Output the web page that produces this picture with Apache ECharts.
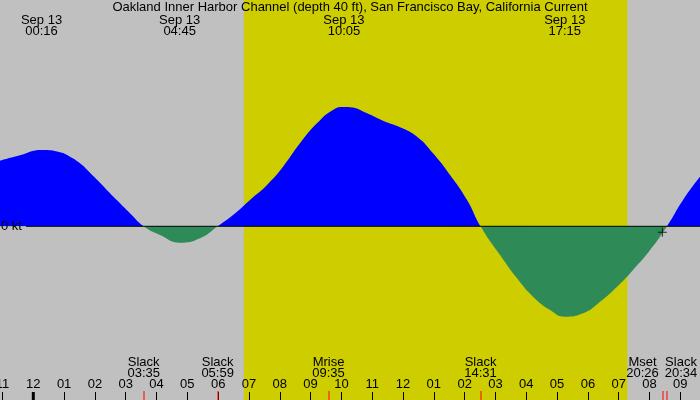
<!DOCTYPE html>
<html>
<head>
<meta charset="utf-8">
<title>Oakland Inner Harbor Channel current</title>
<script src="https://cdn.jsdelivr.net/npm/echarts@6/dist/echarts.min.js"></script>
<style>html,body{margin:0;padding:0;background:#c0c0c0;}</style>
</head>
<body>
<div id="main" style="width:700px;height:400px;"></div>
<script>
// current readings: hours after midnight Sep 13, knots (+ flood / - ebb)
const hours = [-1.081, -0.432, 0.267, 0.867, 1.191, 1.516, 1.84, 2.165, 2.489, 2.814, 3.138, 3.583,
    4.113, 4.75, 5.411, 5.983, 6.482, 7.033, 7.585, 8.104, 8.656, 9.207, 9.727, 10.083, 10.28,
    10.832, 11.351, 11.903, 12.455, 12.974, 13.526, 14.078, 14.517, 15.149, 15.701, 16.22, 16.772,
    17.25, 17.844, 18.396, 18.948, 19.467, 20.019, 20.567, 21.088, 21.639];
const knots = [0.328, 0.355, 0.381, 0.37, 0.348, 0.315, 0.268, 0.218, 0.165, 0.115, 0.065, 0,
    -0.044, -0.082, -0.06, 0, 0.056, 0.132, 0.207, 0.298, 0.415, 0.515, 0.582, 0.596, 0.595,
    0.565, 0.528, 0.495, 0.448, 0.365, 0.257, 0.132, 0, -0.144, -0.26, -0.352, -0.419,
    -0.452, -0.435, -0.377, -0.302, -0.218, -0.119, 0, 0.132, 0.248];

const hourTicks = [-1, 0, 1, 2, 3, 4, 5, 6, 7, 8, 9, 10, 11, 12, 13, 14, 15, 16, 17, 18, 19, 20, 21];
const dayBreaks = [0];

const eventNames = ['Slack', 'Slack', 'Mrise', 'Slack', 'Mset', 'Slack'];
const eventTimes = ['03:35', '05:59', '09:35', '14:31', '20:26', '20:34'];

const peakDates = ['Sep 13', 'Sep 13', 'Sep 13', 'Sep 13'];
const peakTimes = ['00:16', '04:45', '10:05', '17:15'];

const sunTimes = ['06:50', '19:17'];
const nowTime = '20:25';
const nowKnots = -0.03;

const XMIN = -1.081, XMAX = 21.639;
const YMIN = -0.8685, YMAX = 1.1315;
const FONT = 'Liberation Sans';
const FSIZE = 13;
const FLOOD = '#0000ff', EBB = '#2e8b57';

function toHour(s) {
    const p = s.split(':');
    return +p[0] + p[1] / 60;
}
function hourLabel(v) {
    let h = ((Math.round(v) % 12) + 12) % 12;
    if (h === 0) h = 12;
    return String(h).padStart(2, '0');
}

const eventHours = eventTimes.map(toHour);
const peakHours = peakTimes.map(toHour);

// spread overlapping labels apart
function spread(xs, w, right) {
    const c = xs.slice();
    for (let i = 0; i < c.length - 1; i++) {
        if (c[i + 1] - c[i] < w) {
            const mid = (c[i] + c[i + 1]) / 2;
            c[i] = mid - w / 2;
            c[i + 1] = mid + w / 2;
        }
    }
    for (let i = c.length - 1; i >= 0; i--) {
        const lim = i === c.length - 1 ? right - 19 : c[i + 1] - w;
        if (c[i] > lim) c[i] = lim;
    }
    return c;
}

const txt = (x, y, s, align) => ({
    type: 'text',
    style: {x: x, y: y, text: s, fill: '#000', font: FSIZE + 'px "' + FONT + '"',
        align: align || 'center', verticalAlign: 'middle'}
});

const myChart = echarts.init(document.getElementById('main'));
const H = myChart.getHeight();
// hard colour switch at the zero line (global pixel gradient)
const zeroAt = YMAX / (YMAX - YMIN);
const areaFill = new echarts.graphic.LinearGradient(0, 0, 0, H, [
    {offset: 0, color: FLOOD}, {offset: zeroAt, color: FLOOD},
    {offset: zeroAt, color: EBB}, {offset: 1, color: EBB}
], true);

const option = {
    backgroundColor: '#c0c0c0',
    animation: false,
    title: {
        text: 'Oakland Inner Harbor Channel (depth 40 ft), San Francisco Bay, California Current',
        left: 'center',
        top: 1,
        padding: 0,
        textStyle: {fontFamily: FONT, fontSize: FSIZE, fontWeight: 'normal', color: '#000'}
    },
    grid: {left: 0, right: 0, top: 0, bottom: 0, containLabel: false, outerBoundsMode: 'none'},
    xAxis: {
        type: 'value',
        min: XMIN,
        max: XMAX,
        axisLine: {show: false, onZero: false},
        splitLine: {show: false},
        axisTick: {inside: true, length: 8, customValues: hourTicks, lineStyle: {color: '#000', width: 1}},
        axisLabel: {
            inside: true, margin: 9, customValues: hourTicks, formatter: hourLabel,
            color: '#000', fontFamily: FONT, fontSize: FSIZE, showMinLabel: true, showMaxLabel: true
        }
    },
    yAxis: {
        type: 'value',
        min: YMIN,
        max: YMAX,
        show: false,
        splitLine: {show: false}
    },
    series: [
        {
            name: 'daylight',
            type: 'custom',
            z: 0,
            silent: true,
            clip: false,
            data: [[toHour(sunTimes[0]), 0, toHour(sunTimes[1])]],
            renderItem: function (params, api) {
                const a = api.coord([api.value(0), YMAX]);
                const b = api.coord([api.value(2), YMIN]);
                return {type: 'rect', shape: {x: a[0], y: a[1], width: b[0] - a[0], height: b[1] - a[1]},
                    style: {fill: '#cdcd00'}};
            }
        },
        {
            name: 'current',
            type: 'line',
            z: 2,
            smooth: 0.5,
            showSymbol: false,
            lineStyle: {width: 0},
            areaStyle: {opacity: 1, color: areaFill},
            data: hours.map((h, i) => [h, knots[i]])
        },
        {
            name: 'zero',
            type: 'custom',
            z: 3,
            clip: false,
            data: [[XMIN, 0, XMAX]],
            renderItem: function (params, api) {
                const a = api.coord([api.value(0), 0]);
                const b = api.coord([api.value(2), 0]);
                return {type: 'group', children: [
                    {type: 'line', shape: {x1: a[0] + 26, y1: a[1], x2: b[0], y2: b[1]},
                        style: {stroke: '#000', lineWidth: 1}},
                    txt(a[0] + 1, a[1], '0 kt', 'left')
                ]};
            }
        },
        {
            name: 'now',
            type: 'scatter',
            z: 4,
            symbol: 'path://M0,4H9V5H0Z M4,0H5V9H4Z',
            symbolSize: 9,
            itemStyle: {color: '#000'},
            data: [[toHour(nowTime), nowKnots]]
        },
        {
            name: 'events',
            type: 'custom',
            z: 4,
            clip: false,
            data: eventHours.map(h => [h, 0]),
            renderItem: function (params, api) {
                const i = params.dataIndex;
                const right = api.coord([XMAX, 0])[0];
                const xs = eventHours.map(h => api.coord([h, 0])[0]);
                const cs = spread(xs, 38.5, right);
                const bottom = api.coord([api.value(0), YMIN])[1];
                return {type: 'group', children: [
                    {type: 'rect', shape: {x: Math.round(xs[i]) - 0.5, y: bottom - 9, width: 1, height: 9},
                        style: {fill: '#ff0000'}},
                    txt(cs[i], bottom - 38, eventNames[i]),
                    txt(cs[i], bottom - 27, eventTimes[i])
                ]};
            }
        },
        {
            name: 'peaks',
            type: 'custom',
            z: 4,
            clip: false,
            data: peakHours.map(h => [h, 0]),
            renderItem: function (params, api) {
                const i = params.dataIndex;
                const x = api.coord([api.value(0), 0])[0];
                const top = api.coord([api.value(0), YMAX])[1];
                return {type: 'group', children: [
                    txt(x, top + 20, peakDates[i]),
                    txt(x, top + 31.5, peakTimes[i])
                ]};
            }
        },
        {
            name: 'midnight',
            type: 'custom',
            z: 4,
            clip: false,
            data: dayBreaks.map(h => [h, 0]),
            renderItem: function (params, api) {
                const p = api.coord([api.value(0), YMIN]);
                return {type: 'rect', shape: {x: p[0] - 1.5, y: p[1] - 8, width: 3, height: 8},
                    style: {fill: '#000'}};
            }
        }
    ]
};
myChart.setOption(option);
</script>
</body>
</html>
